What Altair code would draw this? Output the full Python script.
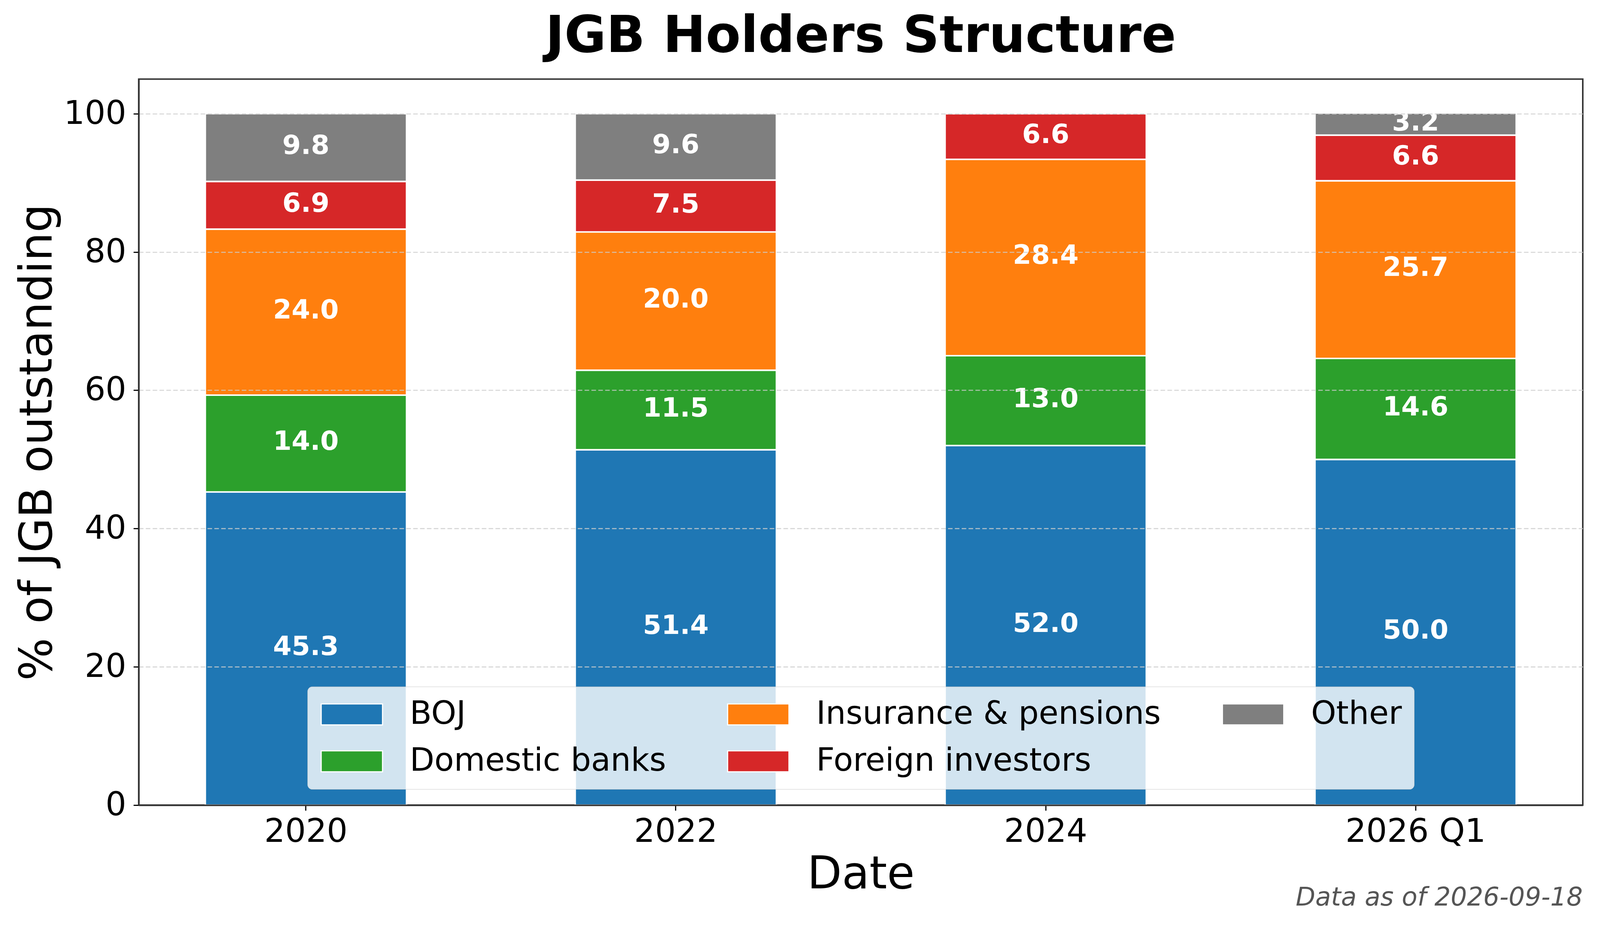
import altair as alt
import pandas as pd

dates = ["2020", "2022", "2024", "2026 Q1"]
boj = [45.3, 51.4, 52.0, 50.0]
domestic_banks = [14.0, 11.5, 13.0, 14.6]
insurance = [24.0, 20.0, 28.4, 25.7]
foreign = [6.9, 7.5, 6.6, 6.6]
other = [9.8, 9.6, 0.0, 3.2]

series_names = ["BOJ", "Domestic banks", "Insurance & pensions", "Foreign investors", "Other"]
series_values = [boj, domestic_banks, insurance, foreign, other]
series_colors = {"BOJ": "#1f77b4", "Domestic banks": "#2ca02c", "Insurance & pensions": "#ff7f0e",
                 "Foreign investors": "#d62728", "Other": "#7f7f7f"}
# legend order matching a 3-column, column-wise filled legend
legend_order = ["BOJ", "Insurance & pensions", "Other", "Domestic banks", "Foreign investors"]
y_ticks = [0, 20, 40, 60, 80, 100]
footnote = "Data as of 2026-09-18"

rows = []
for rank, (name, vals) in enumerate(zip(series_names, series_values)):
    for d, v in zip(dates, vals):
        rows.append({"date": d, "holder": name, "value": v, "rank": rank})
df = pd.DataFrame(rows)

W, H = 3791, 1905
FONT = "DejaVu Sans"

base = alt.Chart(df).transform_stack(
    stack="value", groupby=["date"], sort=[alt.SortField("rank", order="ascending")], as_=["y0", "y1"]
).transform_calculate(mid="(datum.y0 + datum.y1) / 2")

x_enc = alt.X("date:N", sort=dates, title="Date",
              scale=alt.Scale(paddingInner=0.456, paddingOuter=0.18),
              axis=alt.Axis(labelAngle=0, labelFontSize=86, labelFont=FONT, labelColor="black",
                            labelLimit=2000,
                            tickSize=14, tickWidth=3, tickColor="black", labelPadding=14,
                            domain=True, domainColor="#333333", domainWidth=4, grid=False,
                            zindex=2,
                            titleFontSize=118, titleFont=FONT, titleFontWeight="normal",
                            titleColor="black", titleBaseline="alphabetic", titleY=218))

y_scale = alt.Scale(domain=[0, 105], nice=False, zero=True)

bars = base.mark_bar(stroke="white", strokeWidth=4).encode(
    x=x_enc,
    y=alt.Y("y0:Q", scale=y_scale, title="% of JGB outstanding",
            axis=alt.Axis(values=y_ticks, labelFontSize=86, labelFont=FONT, labelColor="black",
                          tickSize=14, tickWidth=3, tickColor="black", labelPadding=19,
                          domain=True, domainColor="#333333", domainWidth=4,
                          grid=True, gridColor="#cccccc", gridOpacity=0.75,
                          gridWidth=3, gridDash=[12, 6], zindex=1,
                          titleFontSize=118, titleFont=FONT, titleFontWeight="normal",
                          titleColor="black", titleAngle=270, titleBaseline="alphabetic",
                          titleAlign="center", titleX=-229, titleY=H / 2)),
    y2="y1:Q",
    color=alt.Color("holder:N", scale=alt.Scale(domain=legend_order,
                                                range=[series_colors[n] for n in legend_order]),
                    legend=alt.Legend(title=None, orient="none", legendX=443, legendY=1594,
                                      columns=3, direction="horizontal",
                                      symbolType="M-2.0125,-0.6875H2.0125V0.6875H-2.0125Z",
                                      symbolSize=6400, symbolOffset=43.5,
                                      symbolStrokeColor="white", symbolStrokeWidth=3,
                                      symbolOpacity=1,
                                      labelFontSize=84, labelFont=FONT, labelColor="black",
                                      labelOffset=110, columnPadding=155, rowPadding=39,
                                      padding=31, fillColor="rgba(255,255,255,0.8)",
                                      strokeColor="#cccccc", cornerRadius=12,
                                      labelLimit=2000, zindex=2)),
    order=alt.Order("rank:Q"),
)

labels = base.transform_filter("datum.value > 0").mark_text(
    color="white", fontSize=70, fontWeight="bold", font=FONT, baseline="middle", dy=-4
).encode(
    x=alt.X("date:N", sort=dates),
    y=alt.Y("mid:Q", scale=y_scale),
    text=alt.Text("value:Q", format=".1f"),
)

note = alt.Chart(pd.DataFrame({"t": [footnote]})).mark_text(
    align="right", baseline="alphabetic", fontSize=67, fontStyle="italic", font=FONT, color="#555555"
).encode(x=alt.value(W), y=alt.value(2169), text="t:N")

chart = alt.layer(bars, labels, note).properties(
    width=W, height=H,
    background="white",
    title=alt.TitleParams("JGB Holders Structure", fontSize=134, font=FONT, fontWeight="bold",
                          color="black", anchor="middle", baseline="alphabetic", offset=58, dy=121),
    autosize=alt.AutoSizeParams(type="none"),
    padding={"left": 356, "top": 169, "right": 37, "bottom": 308},
).configure_view(stroke="#333333", strokeWidth=4)

chart.save("out.html", embed_options={"renderer": "svg", "actions": False})
